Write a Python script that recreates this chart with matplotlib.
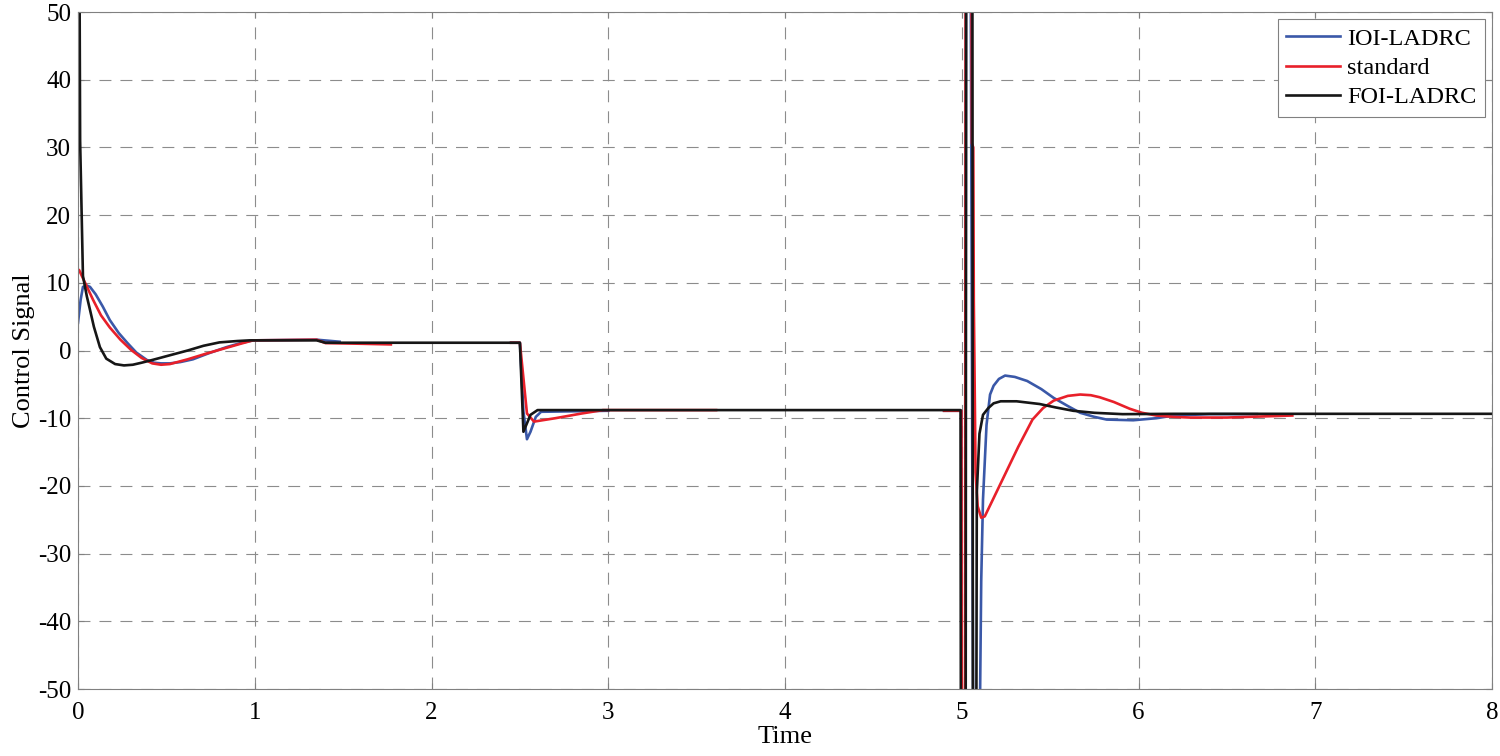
import numpy as np
import matplotlib
matplotlib.use("Agg")
import matplotlib.pyplot as plt

nan = np.nan

# IOI-LADRC (blue); nan = gap in the trace
t_ioi = [0, 0.015, 0.028, 0.05, 0.068, 0.1, 0.14, 0.18, 0.23, 0.28, 0.33, 0.39, 0.43, 0.47,
         0.52, 0.58, 0.65, 0.74, 0.84, 0.92, 0.99, 1.35, 1.48, nan,
         2.45, 2.50, 2.52, 2.54, 2.56, 2.59, 2.62, 3.0, nan,
         4.9, 4.998, 5.0, 5.02, 5.024, 5.05, 5.065, 5.10, 5.11, 5.12, 5.14, 5.16, 5.18,
         5.21, 5.245, 5.30, 5.37, 5.45, 5.52, 5.60, 5.67, 5.75, 5.82, 5.97, 6.1, 6.20,
         6.4, 6.67]
y_ioi = [4.1, 7.5, 9.4, 9.6, 9.4, 8.3, 6.5, 4.5, 2.6, 1.1, -0.3, -1.4, -1.8, -1.9,
         -1.9, -1.7, -1.3, -0.4, 0.5, 1.1, 1.5, 1.6, 1.3, nan,
         1.15, 1.15, -9.0, -13.1, -12.0, -9.8, -9.05, -8.9, nan,
         -8.9, -8.9, -60, -60, 60, 60, -60, -60, -34, -22, -11, -6.5, -5.2,
         -4.2, -3.7, -3.9, -4.5, -5.7, -7.0, -8.2, -9.2, -9.8, -10.2, -10.3, -10.0, -9.6,
         -9.4, -9.4]

# standard (red)
t_std = [0, 0.006, 0.04, 0.085, 0.13, 0.18, 0.24, 0.30, 0.36, 0.42, 0.47, 0.52, 0.62, 0.72,
         0.84, 0.92, 0.99, 1.35, 1.40, 1.6, 1.77, nan,
         2.45, 2.50, 2.54, 2.58, 2.7, 2.85, 2.97, 3.61, nan,
         4.9, 4.998, 5.0, 5.018, 5.022, 5.055, 5.057, 5.065, 5.068, 5.078, 5.09, 5.11,
         5.13, 5.18, 5.25, 5.32, 5.40, 5.46, 5.52, 5.60, 5.67, 5.73, 5.78, 5.86, 5.95,
         6.02, 6.10, 6.2, 6.29, 6.5, 6.87]
y_std = [11.9, 11.9, 10.0, 7.5, 5.2, 3.4, 1.6, 0.1, -1.1, -1.9, -2.1, -2.0, -1.3, -0.5,
         0.4, 1.0, 1.5, 1.6, 1.1, 1.0, 0.9, nan,
         1.15, 1.15, -9.3, -10.5, -10.0, -9.3, -8.8, -8.8, nan,
         -8.9, -8.9, -60, -60, 60, 60, 30.6, 30, 7.4, -18, -23, -24.7,
         -24.5, -21.8, -18, -14.2, -10.2, -8.5, -7.4, -6.7, -6.5, -6.6, -6.9, -7.6, -8.6,
         -9.2, -9.6, -9.8, -9.9, -9.9, -9.6]

# FOI-LADRC (black)
t_foi = [0, 0.008, 0.012, 0.028, 0.05, 0.068, 0.09, 0.124, 0.16, 0.21, 0.26, 0.31, 0.36,
         0.42, 0.52, 0.62, 0.71, 0.80, 0.9, 0.97, 1.35, 1.40,
         2.50, 2.52, 2.56, 2.60, 4.993, 4.995, 5.022, 5.025, 5.060, 5.063, 5.082, 5.085,
         5.10, 5.12, 5.15, 5.18, 5.22, 5.31, 5.44, 5.53, 5.63, 5.75, 5.91, 6.2, 8.0]
y_foi = [60, 60, 31, 11, 8, 6, 3.5, 0.5, -1.2, -2.0, -2.2, -2.1, -1.8,
         -1.4, -0.7, 0, 0.7, 1.2, 1.4, 1.5, 1.5, 1.15,
         1.15, -12.0, -9.5, -8.8, -8.8, -60, -60, 60, 60, -60, -60, -21,
         -12.3, -9.5, -8.5, -7.8, -7.5, -7.5, -7.9, -8.4, -8.9, -9.2, -9.4, -9.35, -9.35]

plt.rcParams["font.family"] = ["Liberation Serif", "DejaVu Serif"]
plt.rcParams["lines.scale_dashes"] = False
plt.rcParams["axes.unicode_minus"] = False

fig = plt.figure(figsize=(15, 7.56), dpi=100)
ax = fig.add_axes([0.052, 0.0886, 0.9427, 0.8955])

ax.plot(t_ioi, y_ioi, color="#3a58a8", lw=1.9, label="IOI-LADRC")
ax.plot(t_std, y_std, color="#e8202a", lw=1.9, label="standard")
ax.plot(t_foi, y_foi, color="#161616", lw=1.9, label="FOI-LADRC")

ax.set_xlim(0, 8)
ax.set_ylim(-50, 50)
ax.set_xticks(range(0, 9))
ax.set_yticks(range(-50, 51, 10))
ax.grid(True, color="#8c8c8c", lw=0.8, linestyle=(0, (8.6, 6.5)))
ax.tick_params(direction="in", length=4, color="#808080", labelsize=18, top=True, right=True)
ax.tick_params(axis="x", pad=9)
ax.tick_params(axis="y", pad=5)
for s in ax.spines.values():
    s.set_color("#808080")
    s.set_linewidth(0.8)

ax.set_xlabel("Time", fontsize=19, labelpad=2)
ax.set_ylabel("Control Signal", fontsize=19, labelpad=2)

leg = ax.legend(loc="upper right", fontsize=17.5, frameon=True, fancybox=False,
                edgecolor="#808080", framealpha=1, handlelength=2.2,
                borderaxespad=0.3, labelspacing=0.3, handletextpad=0.3,
                borderpad=0.35)
leg.get_frame().set_linewidth(0.8)

fig.savefig("out.png", dpi=100)
